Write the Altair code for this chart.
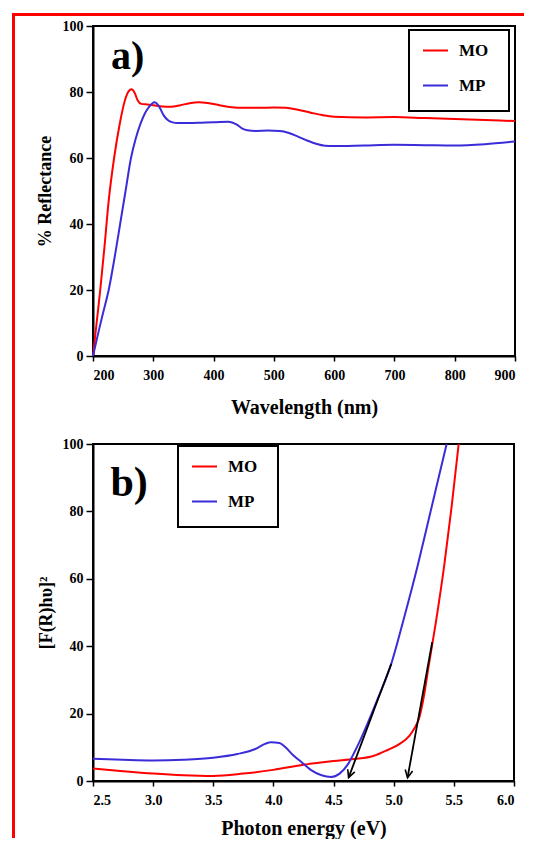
import math
import altair as alt
import pandas as pd

# ---------------- data: panel a (reflectance) ----------------
wl_mo = [200, 206, 212, 219, 226, 235, 244, 253, 259, 264, 269, 274, 280, 290, 300, 315, 330, 345, 360, 375,
         390, 410, 430, 450, 475, 500, 520, 540, 560, 580, 600, 650, 700, 750, 800, 850, 900]
r_mo = [0, 10, 20, 33, 47, 60, 70, 77.5, 80.2, 80.8, 79.8, 77.5, 76.4, 76.2, 76.0, 75.6, 75.5, 76.0, 76.6, 76.9,
        76.7, 76.0, 75.4, 75.2, 75.2, 75.3, 75.2, 74.6, 73.8, 73.0, 72.5, 72.3, 72.4, 72.1, 71.8, 71.5, 71.2]

wl_mp = [200, 210, 218, 226, 236, 245, 254, 263, 271, 279, 286, 293, 302, 310, 317, 324, 332, 340, 360, 380,
         400, 425, 438, 447, 456, 470, 490, 510, 525, 540, 555, 570, 585, 600, 650, 700, 750, 800, 850, 900]
r_mp = [0, 8, 14, 20, 30, 40, 50, 60, 66, 70.5, 73.5, 75.5, 76.9, 75.5, 73, 71.5, 70.8, 70.6, 70.6, 70.7,
        70.8, 71.0, 70.2, 69.0, 68.4, 68.2, 68.3, 68.2, 67.6, 66.5, 65.3, 64.3, 63.7, 63.6, 63.8, 64.0, 63.9, 63.8, 64.2, 65.0]

# ---------------- data: panel b (Tauc plot) ----------------
e_mo = [2.5, 2.75, 3.0, 3.25, 3.5, 3.75, 4.0, 4.25, 4.5, 4.67, 4.83, 4.95, 5.05, 5.13, 5.17, 5.21, 5.25, 5.29,
        5.35, 5.42, 5.48, 5.54]
f_mo = [3.7, 2.9, 2.2, 1.7, 1.5, 2.2, 3.3, 4.8, 5.9, 6.5, 7.4, 9.2, 11.0, 13.4, 15.5, 18.5, 25, 34, 47, 64, 81, 100]

e_mp = [2.5, 2.75, 3.0, 3.25, 3.5, 3.7, 3.85, 3.93, 3.98, 4.05, 4.1, 4.16, 4.23, 4.31, 4.4, 4.48, 4.55, 4.62,
        4.67, 4.72, 4.86, 4.98, 5.08, 5.2, 5.3, 5.44]
f_mp = [6.6, 6.3, 6.1, 6.3, 6.9, 8.0, 9.5, 11.0, 11.5, 11.3, 10.0, 7.8, 5.7, 3.3, 1.7, 1.2, 2.2, 5.0,
        8.3, 12.0, 23.8, 34.8, 47.6, 64, 79, 100]

# tangent (extrapolation) lines: [top point, arrow tip]
tan_mo_e = [5.32, 5.115]
tan_mo_f = [41.2, 1.0]
tan_mp_e = [4.98, 4.625]
tan_mp_f = [34.8, 1.0]

series = ["MO", "MP"]
colors = ["#ff0000", "#3b2bd9"]
x_ticks_a = [200, 300, 400, 500, 600, 700, 800, 900]
x_ticks_b = [2.5, 3.0, 3.5, 4.0, 4.5, 5.0, 5.5, 6.0]
y_ticks = [0, 20, 40, 60, 80, 100]

# ---------------- layout sizes ----------------
WA, HA = 422, 330
WB, HB = 421, 337
FONT = "Liberation Serif"
FRAME = "#ff0000"
ZW = "\u200b"

one = pd.DataFrame({"k": [0]})
color_scale = alt.Scale(domain=series, range=colors)


def legend(lx, ly):
    return alt.Legend(title=None, orient="none", legendX=lx, legendY=ly,
                      labelExpr="datum.label + '   " + ZW + "'")


def frame_rect(x1, x2, y1, y2):
    return alt.Chart(one).mark_rect(color=FRAME, strokeWidth=0).encode(
        x=alt.value(x1), x2=alt.value(x2), y=alt.value(y1), y2=alt.value(y2))


# ---------------- panel a ----------------
df_a = pd.concat([
    pd.DataFrame({"w": wl_mo, "r": r_mo, "s": "MO"}),
    pd.DataFrame({"w": wl_mp, "r": r_mp, "s": "MP"}),
])

xa = alt.X("w:Q", scale=alt.Scale(domain=[200, 900], nice=False),
           axis=alt.Axis(values=x_ticks_a, title="Wavelength (nm)", titlePadding=15))
ya = alt.Y("r:Q", scale=alt.Scale(domain=[0, 100], nice=False),
           axis=alt.Axis(values=y_ticks, title="% Reflectance", titlePadding=8))

lines_a = alt.Chart(df_a).mark_line(interpolate="monotone", strokeWidth=2).encode(
    x=xa, y=ya,
    color=alt.Color("s:N", scale=color_scale, legend=legend(316, 4)),
)

label_a = alt.Chart(pd.DataFrame({"t": ["a)"]})).mark_text(
    align="left", baseline="alphabetic", font=FONT, fontSize=40, fontWeight="bold", color="black"
).encode(x=alt.value(18), y=alt.value(43), text="t:N")

frame_top = frame_rect(-81, 431, -13, -10)
frame_left_a = frame_rect(-81, -78, -13, 400)

panel_a = alt.layer(frame_top, frame_left_a, lines_a, label_a).properties(width=WA, height=HA)

# ---------------- panel b ----------------
df_b = pd.concat([
    pd.DataFrame({"e": e_mo, "f": f_mo, "s": "MO"}),
    pd.DataFrame({"e": e_mp, "f": f_mp, "s": "MP"}),
])
df_tan = pd.concat([
    pd.DataFrame({"e": tan_mo_e, "f": tan_mo_f, "k": "MO"}),
    pd.DataFrame({"e": tan_mp_e, "f": tan_mp_f, "k": "MP"}),
])

px_e = WB / 3.5
px_f = HB / 100.0


def head_angle(es, fs):
    dx = (es[1] - es[0]) * px_e
    dy = (fs[0] - fs[1]) * px_f
    return math.degrees(math.atan2(-dx, dy))


df_head = pd.DataFrame({
    "e": [tan_mo_e[1], tan_mp_e[1]],
    "f": [tan_mo_f[1], tan_mp_f[1]],
    "ang": [head_angle(tan_mo_e, tan_mo_f), head_angle(tan_mp_e, tan_mp_f)],
})

xb = alt.X("e:Q", scale=alt.Scale(domain=[2.5, 6.0], nice=False),
           axis=alt.Axis(values=x_ticks_b, format=".1f", title="Photon energy (eV)", titlePadding=11))
yb = alt.Y("f:Q", scale=alt.Scale(domain=[0, 100], nice=False),
           axis=alt.Axis(values=y_ticks, title="[F(R)hυ]²", titlePadding=7))

lines_b = alt.Chart(df_b).mark_line(interpolate="monotone", strokeWidth=2).encode(
    x=xb, y=yb,
    color=alt.Color("s:N", scale=color_scale, legend=legend(85, 2)),
)
tan_b = alt.Chart(df_tan).mark_line(color="black", strokeWidth=1.8).encode(
    x=xb, y=yb, detail="k:N")
heads_b = alt.Chart(df_head).mark_point(
    shape="M -0.75 -1.5 L 0 0 L 0.75 -1.5", filled=False, color="black", strokeWidth=1.6,
    size=100, opacity=1
).encode(x=xb, y=yb, angle=alt.Angle("ang:Q", scale=None))

label_b = alt.Chart(pd.DataFrame({"t": ["b)"]})).mark_text(
    align="left", baseline="alphabetic", font=FONT, fontSize=42, fontWeight="bold", color="black"
).encode(x=alt.value(17.5), y=alt.value(52), text="t:N")

frame_left_b = frame_rect(-81, -78, -35, 394)

panel_b = alt.layer(frame_left_b, lines_b, tan_b, heads_b, label_b).properties(width=WB, height=HB)

# ---------------- combine ----------------
chart = alt.concat(panel_a, panel_b, columns=1, spacing=-19, bounds="full").resolve_scale(
    color="independent"
).resolve_legend(color="independent").properties(
    padding={"left": 3, "top": 4, "right": 0, "bottom": 0}
).configure_view(
    stroke="black", strokeWidth=2
).configure_axis(
    domainColor="black", domainWidth=2, tickColor="black", tickWidth=1.5, grid=False,
    labelFont=FONT, labelFontSize=14, labelFontWeight="bold", labelColor="black",
    titleFont=FONT, titleFontWeight="bold", titleColor="black",
).configure_axisX(
    tickSize=5, labelPadding=7, titleFontSize=20
).configure_axisY(
    tickSize=7, labelPadding=3, titleFontSize=18
).configure_legend(
    symbolType="M -1 0 L 1 0 M 0 1.1", symbolSize=625, symbolStrokeWidth=2,
    labelFont=FONT, labelFontSize=17, labelFontWeight="bold", labelColor="black",
    labelOffset=10, rowPadding=3, padding=7, symbolOffset=6,
    strokeColor="black", strokeWidth=2,
)

chart.save("out.html", embed_options={"renderer": "svg", "actions": False})
